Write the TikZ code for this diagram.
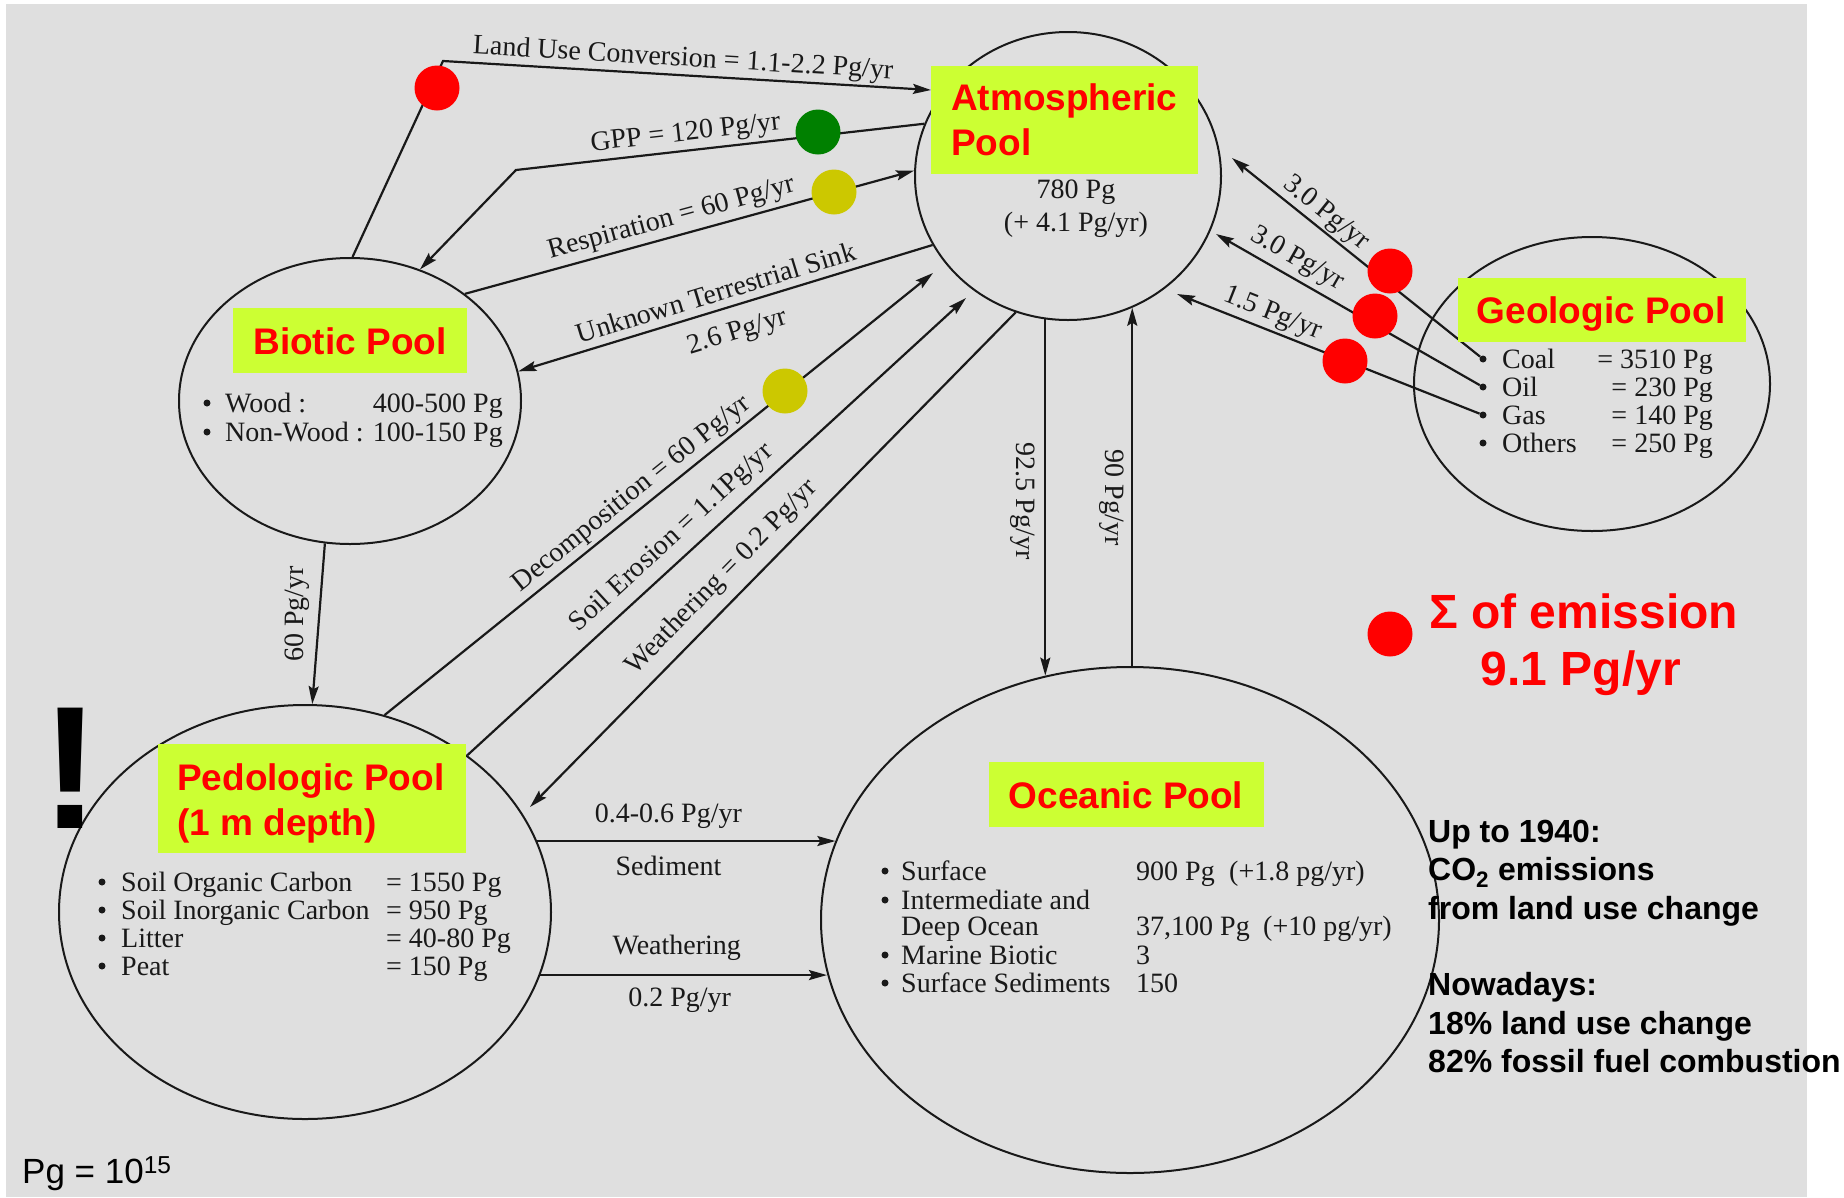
\documentclass[tikz,border=0pt]{standalone}
\usepackage{fontspec}
\setmainfont{Liberation Serif}
\newfontfamily\arial{Liberation Sans}
\usetikzlibrary{shapes.geometric,arrows.meta}
\definecolor{bggray}{RGB}{223,223,223}
\definecolor{limebox}{RGB}{204,255,51}
\definecolor{dotred}{RGB}{255,0,0}
\definecolor{dotgreen}{RGB}{0,128,0}
\definecolor{dotolive}{RGB}{204,200,0}
\definecolor{ink}{RGB}{25,25,25}
\newcommand\flowfont{\fontsize{28}{32}\selectfont}
\begin{document}
\begin{tikzpicture}[x=1pt,y=-1pt,
  pool/.style={draw=ink, ellipse, line width=2pt, inner sep=0pt},
  flowline/.style={draw=ink, line width=2.2pt, -{Stealth[length=18pt,width=10pt,inset=3pt]}},
  flowlab/.style={font=\flowfont, inner sep=2pt, text=ink},
  listitem/.style={font=\flowfont, text=ink, inner sep=0pt},
  bul/.style={circle, fill=ink, minimum size=7pt, inner sep=0pt},
  lbox/.style={fill=limebox, inner sep=0pt, anchor=north west},
  pooltitle/.style={font=\arial\bfseries\fontsize{37}{44}\selectfont, text=dotred, inner sep=0pt},
  bigdot/.style={circle, minimum size=45pt, inner sep=0pt},
  sidenote/.style={font=\arial\bfseries\fontsize{32}{38}\selectfont, inner sep=0pt, anchor=base west, text=black}
]
\useasboundingbox (0,0) rectangle (1844,1197);
\fill[white] (0,0) rectangle (1844,1197);
\fill[bggray] (6,4) rectangle (1807,1197);

% pools
\node[pool, minimum width=306pt, minimum height=288pt] (atm) at (1068,176) {};
\node[pool, minimum width=342pt, minimum height=286pt] (bio) at (350,401) {};
\node[pool, minimum width=356pt, minimum height=294pt] (geo) at (1592,384) {};
\node[pool, minimum width=492pt, minimum height=414pt] (ped) at (305,912) {};
\node[pool, minimum width=618pt, minimum height=506pt] (oce) at (1130,920) {};

% free ends and corners
\coordinate (luC) at (443,61);
\coordinate (luT) at (931,90);
\coordinate (gppC) at (516,170);
\coordinate (decT) at (933,273);
\coordinate (eroT) at (966,298);
\coordinate (weaT) at (530,807);
\coordinate (coalT) at (1232,158);
\coordinate (oilT) at (1216,234);
\coordinate (gasT) at (1177,294);

% geologic bullets (start of fossil flows)
\node[bul] (gb1) at (1483,359) {};
\node[bul] (gb2) at (1483,387) {};
\node[bul] (gb3) at (1483,415) {};
\node[bul] (gb4) at (1483,443) {};

% flows
\draw[flowline] (bio.89) -- (luC) -- node[flowlab, sloped, above, pos=.49] {Land Use Conversion = 1.1-2.2 Pg/yr} (luT);
\draw[flowline] (atm.160) -- node[flowlab, sloped, above, inner ysep=3pt, pos=.58] {GPP = 120 Pg/yr} (gppC) -- (bio.62);
\draw[flowline] (bio.43) -- node[flowlab, sloped, above, inner ysep=4pt, pos=.47] {Respiration = 60 Pg/yr} (atm.178);
\draw[flowline] (atm.207) -- node[flowlab, sloped, above, inner ysep=7pt, pos=.51] {Unknown Terrestrial Sink}
   node[flowlab, sloped, below, inner ysep=14pt, pos=.49] {2.6 Pg/yr} (bio.10);
\draw[flowline] (ped.68) -- node[flowlab, sloped, above, inner ysep=3pt, pos=.47] {Decomposition = 60 Pg/yr} (decT);
\draw[flowline] (ped.44) -- node[flowlab, sloped, above, inner ysep=8pt, pos=.44] {Soil Erosion = 1.1Pg/yr} (eroT);
\draw[flowline] (atm.249) -- node[flowlab, sloped, above, inner ysep=10pt, pos=.57] {Weathering = 0.2 Pg/yr} (weaT);
\draw[flowline] (atm.261) -- node[flowlab, rotate=-90, anchor=north, inner ysep=9.5pt, pos=.51] {92.5 Pg/yr} (atm.261 |- oce.109);
\draw[flowline] (atm.296 |- oce.89) -- node[flowlab, rotate=-90, anchor=north, inner ysep=7.5pt, pos=.47] {90 Pg/yr} (atm.296);
\draw[flowline] (bio.260) -- node[flowlab, rotate=90, anchor=south, inner ysep=8.5pt, pos=.44] {60 Pg/yr} (ped.88);
\draw[flowline] (ped.17) -- node[flowlab, above, inner ysep=11.5pt, pos=.44] {0.4-0.6 Pg/yr}
   node[flowlab, below, inner ysep=13.5pt, pos=.44] {Sediment} (ped.17 -| oce.165);
\draw[flowline] (ped.345) -- node[flowlab, above, inner ysep=13.5pt, pos=.476] {Weathering}
   node[flowlab, below, inner ysep=11.5pt, pos=.486] {0.2 Pg/yr} (ped.345 -| oce.190);
\draw[flowline] (gb1) -- node[flowlab, sloped, above, pos=.66] {3.0 Pg/yr} (coalT);
\draw[flowline] (gb2) -- node[flowlab, sloped, above, inner ysep=5pt, pos=.727] {3.0 Pg/yr} (oilT);
\draw[flowline] (gb3) -- node[flowlab, sloped, above, inner ysep=3pt, pos=.705] {1.5 Pg/yr} (gasT);

% title boxes
\node[lbox, minimum width=267pt, minimum height=108pt] (atmbox) at (931,66) {};
\node[lbox, minimum width=234pt, minimum height=65pt] (biobox) at (233,308) {};
\node[lbox, minimum width=288pt, minimum height=64pt] (geobox) at (1458,278) {};
\node[lbox, minimum width=308pt, minimum height=109pt] (pedbox) at (158,744) {};
\node[lbox, minimum width=275pt, minimum height=65pt] (ocebox) at (989,762) {};

% atmospheric pool
\node[pooltitle, anchor=base west] (atmt1) at (951,110) {Atmospheric};
\node[pooltitle, anchor=base west] (atmt2) at (951,155) {Pool};
\node[listitem, anchor=base] (atmv1) at (1076,198) {780 Pg};
\node[listitem, anchor=base] (atmv2) at (1076,231) {(+ 4.1 Pg/yr)};

% biotic pool
\node[pooltitle, anchor=base] (biot) at (350,354) {Biotic Pool};
\node[bul] (bb1) at (207,403) {};
\node[bul] (bb2) at (207,432) {};
\node[listitem, anchor=base west] (bn1) at (225,412) {Wood :};
\node[listitem, anchor=base west] (bn2) at (225,441) {Non-Wood :};
\node[listitem, anchor=base east] (bv1) at (503,412) {400-500 Pg};
\node[listitem, anchor=base east] (bv2) at (503,441) {100-150 Pg};

% geologic pool
\node[pooltitle, anchor=base] (geot) at (1601,323) {Geologic Pool};
\node[listitem, anchor=base west] (gn1) at (1502,368) {Coal};
\node[listitem, anchor=base west] (gn2) at (1502,396) {Oil};
\node[listitem, anchor=base west] (gn3) at (1502,424) {Gas};
\node[listitem, anchor=base west] (gn4) at (1502,452) {Others};
\node[listitem, anchor=base east] (gv1) at (1713,368) {= 3510 Pg};
\node[listitem, anchor=base east] (gv2) at (1713,396) {= 230 Pg};
\node[listitem, anchor=base east] (gv3) at (1713,424) {= 140 Pg};
\node[listitem, anchor=base east] (gv4) at (1713,452) {= 250 Pg};

% pedologic pool
\node[pooltitle, anchor=base west] (pedt1) at (177,790) {Pedologic Pool};
\node[pooltitle, anchor=base west] (pedt2) at (177,835) {(1 m depth)};
\node[bul] (pb1) at (102,882) {};
\node[bul] (pb2) at (102,910) {};
\node[bul] (pb3) at (102,938) {};
\node[bul] (pb4) at (102,966) {};
\node[listitem, anchor=base west] (pn1) at (121,891) {Soil Organic Carbon};
\node[listitem, anchor=base west] (pn2) at (121,919) {Soil Inorganic Carbon};
\node[listitem, anchor=base west] (pn3) at (121,947) {Litter};
\node[listitem, anchor=base west] (pn4) at (121,975) {Peat};
\node[listitem, anchor=base west] (pv1) at (386,891) {= 1550 Pg};
\node[listitem, anchor=base west] (pv2) at (386,919) {= 950 Pg};
\node[listitem, anchor=base west] (pv3) at (386,947) {= 40-80 Pg};
\node[listitem, anchor=base west] (pv4) at (386,975) {= 150 Pg};

% oceanic pool
\node[pooltitle, anchor=base] (ocet) at (1126,808) {Oceanic Pool};
\node[bul] (ob1) at (885,871) {};
\node[bul] (ob2) at (885,900) {};
\node[bul] (ob3) at (885,955) {};
\node[bul] (ob4) at (885,983) {};
\node[listitem, anchor=base west] (on1) at (901,880) {Surface};
\node[listitem, anchor=base west] (on2) at (901,909) {Intermediate and};
\node[listitem, anchor=base west] (on3) at (901,935) {Deep Ocean};
\node[listitem, anchor=base west] (on4) at (901,964) {Marine Biotic};
\node[listitem, anchor=base west] (on5) at (901,992) {Surface Sediments};
\node[listitem, anchor=base west] (ov1) at (1136,880) {900 Pg};
\node[listitem, anchor=base west] (ov1b) at (1229,880) {(+1.8 pg/yr)};
\node[listitem, anchor=base west] (ov3) at (1136,935) {37,100 Pg};
\node[listitem, anchor=base west] (ov3b) at (1263,935) {(+10 pg/yr)};
\node[listitem, anchor=base west] (ov4) at (1136,964) {3};
\node[listitem, anchor=base west] (ov5) at (1136,992) {150};

% side notes
\node[sidenote] (n1) at (1428,842) {Up to 1940:};
\node[sidenote] (n2) at (1428,880) {CO\textsubscript{2} emissions};
\node[sidenote] (n3) at (1428,919) {from land use change};
\node[sidenote] (n4) at (1428,995) {Nowadays:};
\node[sidenote] (n5) at (1428,1034) {18\% land use change};
\node[sidenote] (n6) at (1428,1072) {82\% fossil fuel combustion};

\node[anchor=base west, inner sep=0pt, text=dotred, font=\arial\bfseries\fontsize{48}{56}\selectfont] (sum1) at (1429,628) {Σ of emission};
\node[anchor=base, inner sep=0pt, text=dotred, font=\arial\bfseries\fontsize{48}{56}\selectfont] (sum2) at (1581,685) {9.1 Pg/yr};
\node[anchor=base west, inner sep=0pt, font=\arial\fontsize{35}{40}\selectfont] (pgdef) at (22,1183) {Pg = 10\textsuperscript{15}};
\node[anchor=base, inner sep=0pt, font=\arial\bfseries\fontsize{175}{180}\selectfont] (bang) at (71,828) {!};

% colour markers
\node[bigdot, fill=dotred] (d1) at (437,88) {};
\node[bigdot, fill=dotgreen] (d2) at (818,132) {};
\node[bigdot, fill=dotolive] (d3) at (834,192) {};
\node[bigdot, fill=dotolive] (d4) at (785,391) {};
\node[bigdot, fill=dotred] (d5) at (1390,271) {};
\node[bigdot, fill=dotred] (d6) at (1375,316) {};
\node[bigdot, fill=dotred] (d7) at (1345,361) {};
\node[bigdot, fill=dotred] (d8) at (1390,634) {};
\end{tikzpicture}
\end{document}
